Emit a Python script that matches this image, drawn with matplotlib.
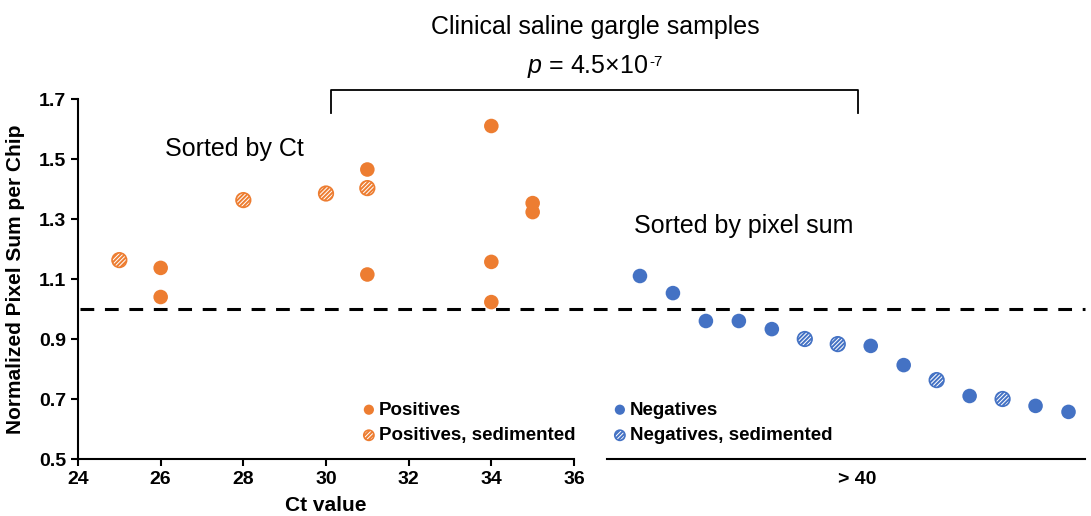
import numpy as np
import matplotlib
matplotlib.use('Agg')
import matplotlib.pyplot as plt
from matplotlib.lines import Line2D
from matplotlib.legend_handler import HandlerPathCollection
from matplotlib.collections import PathCollection
from matplotlib.transforms import blended_transform_factory

plt.rcParams['font.family'] = ['Liberation Sans', 'DejaVu Sans']
plt.rcParams['mathtext.fontset'] = 'custom'
plt.rcParams['mathtext.rm'] = 'Liberation Sans'
plt.rcParams['mathtext.it'] = 'Liberation Sans:italic'
plt.rcParams['hatch.linewidth'] = 1.4

# 阳性样本 (按Ct排序)
pos_ct = [26, 26, 31, 31, 34, 34, 34, 35, 35]
pos_val = [1.137, 1.040, 1.465, 1.115, 1.610, 1.157, 1.023, 1.353, 1.323]
pos_sed_ct = [25, 28, 30, 31]
pos_sed_val = [1.163, 1.363, 1.385, 1.403]

# 阴性样本 (按像素和排序)
neg_rank = [1, 2, 3, 4, 5, 8, 9, 11, 13, 14]
neg_val = [1.110, 1.053, 0.960, 0.960, 0.933, 0.877, 0.813, 0.710, 0.677, 0.657]
neg_sed_rank = [6, 7, 10, 12]
neg_sed_val = [0.900, 0.883, 0.763, 0.700]

orange = '#ED7D31'
blue = '#4472C4'

fig = plt.figure(figsize=(10.91, 5.16), dpi=100)
W, H = 1091, 516
ax1 = fig.add_axes([78 / W, 1 - 459 / H, (574 - 78) / W, 360 / H])
ax2 = fig.add_axes([607 / W, 1 - 459 / H, (1085 - 607) / W, 360 / H], sharey=ax1)

ms = 110
ax1.scatter(pos_ct, pos_val, s=ms, color=orange, edgecolors='none', zorder=3, label='Positives')
ax1.scatter(pos_sed_ct, pos_sed_val, s=ms, facecolor='white', edgecolors=orange,
            hatch='////////', linewidths=1.2, zorder=3, label='Positives, sedimented')
ax2.scatter(neg_rank, neg_val, s=ms, color=blue, edgecolors='none', zorder=3, label='Negatives')
ax2.scatter(neg_sed_rank, neg_sed_val, s=ms, facecolor='white', edgecolors=blue,
            hatch='////////', linewidths=1.2, zorder=3, label='Negatives, sedimented')

ax1.set_xlim(24, 36)
ax1.set_ylim(0.5, 1.7)
ax1.set_xticks(np.arange(24, 37, 2))
ax1.set_yticks(np.arange(0.5, 1.71, 0.2))
ax1.set_yticklabels(['%.1f' % v for v in np.arange(0.5, 1.71, 0.2)])
for s in ['top', 'right']:
    ax1.spines[s].set_visible(False)
ax1.spines['left'].set_linewidth(1.5)
ax1.spines['bottom'].set_linewidth(1.5)
ax1.tick_params(axis='both', labelsize=14, width=1.5, length=5, direction='out')
for lab in ax1.get_xticklabels() + ax1.get_yticklabels():
    lab.set_fontweight('bold')
ax1.set_xlabel('Ct value', fontsize=15, fontweight='bold', labelpad=6)
ax1.set_ylabel('Normalized Pixel Sum per Chip', fontsize=15, fontweight='bold', labelpad=10)

ax2.set_xlim(0, 14.5)
for s in ['top', 'right', 'left']:
    ax2.spines[s].set_visible(False)
ax2.spines['bottom'].set_linewidth(1.5)
ax2.set_xticks([7.6])
ax2.set_xticklabels(['> 40'], fontsize=14, fontweight='bold')
ax2.tick_params(axis='x', length=0, pad=9)
ax2.tick_params(axis='y', left=False, labelleft=False)

# 阈值虚线 y = 1.0
tr = blended_transform_factory(fig.transFigure, ax1.transData)
fig.add_artist(Line2D([80 / W, 1085 / W], [1.0, 1.0], transform=tr, color='black',
                      linestyle=(0, (4.5, 3.5)), linewidth=2.2))

# 括号
bx0, bx1, by0, by1 = 331 / W, 858 / W, 1 - 90 / H, 1 - 113 / H
fig.add_artist(Line2D([bx0, bx0, bx1, bx1], [by1, by0, by0, by1], transform=fig.transFigure,
                      color='black', linewidth=1.3))

fig.text(595 / W, 1 - 27 / H, 'Clinical saline gargle samples', fontsize=18, ha='center', va='center')
ptxt = fig.text(588 / W, 1 - 67 / H, r'$p$ = 4.5×10', fontsize=18, ha='center', va='center')
fig.text(165 / W, 1 - 149 / H, 'Sorted by Ct', fontsize=18, ha='left', va='center')
fig.text(634 / W, 1 - 226 / H, 'Sorted by pixel sum', fontsize=18, ha='left', va='center')

# 上标 -7
fig.canvas.draw()
bb = ptxt.get_window_extent()
fig.text(bb.x1 / W + 0.5 / W, bb.y1 / H - 2 / H, '-7', fontsize=11, ha='left', va='top')


def fix_hatch(handle, orig):
    # 图例里的阴影线颜色跟原来的一致
    handle.update_from(orig)
    handle.set_edgecolor(orig.get_edgecolor())
    if hasattr(orig, '_hatch_color'):
        handle._hatch_color = orig._hatch_color


leg_kw = dict(frameon=False, handletextpad=0.05, markerscale=0.7,
              labelspacing=0.45, borderaxespad=0, handlelength=1.0,
              prop={'weight': 'bold', 'size': 13.5},
              handler_map={PathCollection: HandlerPathCollection(update_func=fix_hatch)})
ax1.legend(loc='upper left', bbox_to_anchor=((352 - 78) / 496, (459 - 394) / 360), **leg_kw)
ax2.legend(loc='upper left', bbox_to_anchor=((603 - 607) / 478, (459 - 394) / 360), **leg_kw)

fig.savefig('out.png', dpi=100)
